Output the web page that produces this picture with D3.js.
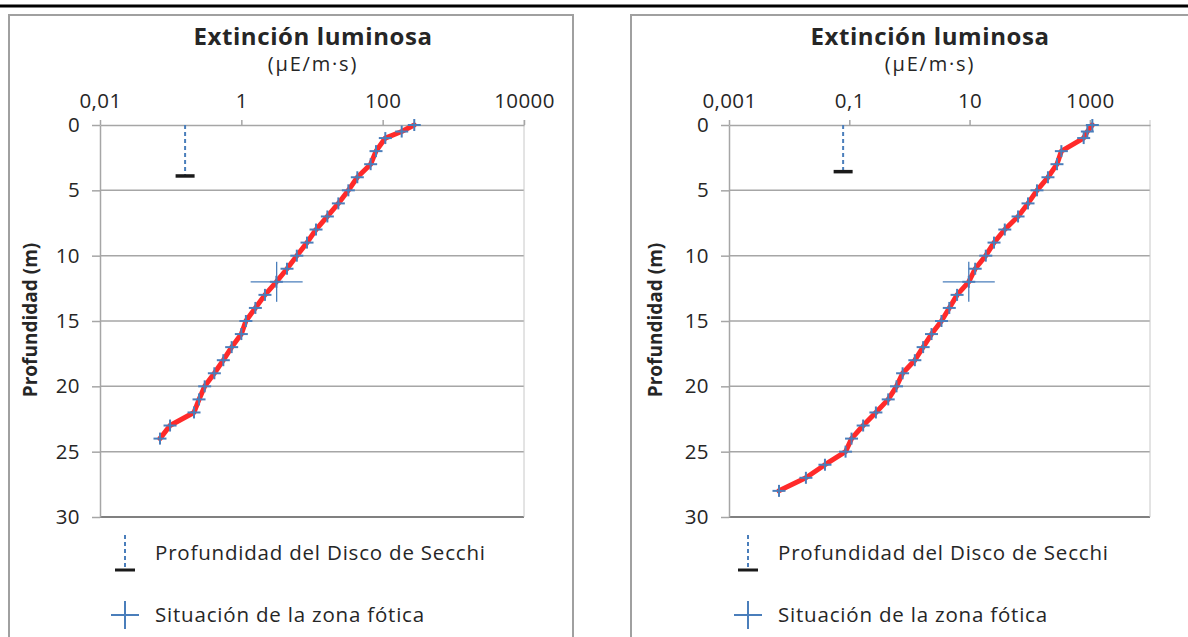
<!DOCTYPE html>
<html>
<head>
<meta charset="utf-8">
<script src="https://cdn.jsdelivr.net/npm/d3@7"></script>
<style>
  html, body { margin: 0; padding: 0; background: #fff; }
  svg { display: block; }
  text { font-family: "Open Sans", "DejaVu Sans", sans-serif; fill: #262626; }
</style>
</head>
<body>
<svg id="chart" width="1188" height="637"></svg>
<script>
// Light profile, first station: depth (m) and irradiance (µE/m·s)
const depthA = [0, 0.5, 1, 2, 3, 4, 5, 6, 7, 8, 9, 10, 11, 12, 13, 14, 15, 16, 17, 18, 19, 20, 21, 22, 23, 24];
const lightA = [280, 186, 109, 80.5, 67.6, 43.8, 32.7, 23.6, 16.5, 11.4, 8.5, 6.1, 4.43, 3.13, 2.16, 1.58,
                1.16, 1.0, 0.73, 0.556, 0.415, 0.303, 0.252, 0.214, 0.098, 0.0706];

// Light profile, second station
const depthB = [0, 0.5, 1, 2, 3, 4, 5, 6, 7, 8, 9, 10, 11, 12, 13, 14, 15, 16, 17, 18, 19, 20,
                21, 22, 23, 24, 25, 26, 27, 28];
const lightB = [1100, 908, 789, 336, 284, 201, 132, 93.7, 64, 38.5, 25.5, 18.6, 12.4, 9.7, 6.2, 4.6,
                3.41, 2.33, 1.69, 1.23, 0.77, 0.61, 0.444, 0.277, 0.170, 0.109, 0.0867, 0.0394, 0.019, 0.00678];

// Secchi disc depth [light, depth] and photic zone point [light, depth]
const secchiA = [0.16, 3.9];
const secchiB = [0.079, 3.57];
const photicA = [3.16, 12];
const photicB = [9.7, 12];

// Axis ticks
const xTicksA = [0.01, 1, 100, 10000];
const xLabelsA = ["0,01", "1", "100", "10000"];
const xDomainA = [0.01, 10000];
const xTicksB = [0.001, 0.1, 10, 1000];
const xLabelsB = ["0,001", "0,1", "10", "1000"];
const xDomainB = [0.001, 10000];
const depthTicks = [0, 5, 10, 15, 20, 25, 30];

const titleText = "Extinción luminosa";
const unitText = "(µE/m·s)";
const yTitleText = "Profundidad (m)";
const legendSecchi = "Profundidad del Disco de Secchi";
const legendPhotic = "Situación de la zona fótica";

const svg = d3.select("#chart");

// Rule across the top of the page
svg.append("line").attr("x1", 0).attr("x2", 1188).attr("y1", 6).attr("y2", 6)
  .attr("stroke", "#000").attr("stroke-width", 3);

const GRID = "#a6a6a6";
const BLUE = "#4a7ebb";
const RED = "#ff2a2a";
const TICK_FONT = 20.5;

function drawPanel(o) {
  const g = svg.append("g");

  // panel frame
  g.append("rect").attr("x", o.frame[0]).attr("y", o.frame[1])
    .attr("width", o.frame[2]).attr("height", o.frame[3])
    .attr("fill", "none").attr("stroke", "#a0a0a0").attr("stroke-width", 2);

  const x = d3.scaleLog().domain(o.xDomain).range([o.left, o.right]);
  const y = d3.scaleLinear().domain([0, 30]).range([o.top, o.bottom]);

  // horizontal gridlines
  g.selectAll(".grid").data(depthTicks.slice(1, -1)).join("line")
    .attr("x1", o.left).attr("x2", o.right)
    .attr("y1", d => y(d)).attr("y2", d => y(d))
    .attr("stroke", GRID).attr("stroke-width", 1.5);

  // bottom edge and right edge of the plot
  g.append("line").attr("x1", o.left).attr("x2", o.right)
    .attr("y1", y(30)).attr("y2", y(30)).attr("stroke", "#808080").attr("stroke-width", 2);
  g.append("line").attr("x1", o.right).attr("x2", o.right)
    .attr("y1", y(0) - 5).attr("y2", y(30)).attr("stroke", "#c8c8c8").attr("stroke-width", 1);

  // top (value) axis
  const xAxis = d3.axisTop(x).tickValues(o.xTicks)
    .tickFormat((d, i) => o.xLabels[i]).tickSize(5).tickSizeOuter(0).tickPadding(12);
  const xa = g.append("g").attr("transform", `translate(0,${o.top})`).call(xAxis);
  xa.select(".domain").attr("stroke", GRID).attr("stroke-width", 1.5);
  xa.selectAll(".tick line").attr("stroke", GRID).attr("stroke-width", 1.5);
  xa.selectAll(".tick text").attr("font-size", TICK_FONT).attr("fill", "#262626")
    .attr("letter-spacing", 0.4).attr("font-family", "Open Sans, sans-serif");

  // depth axis
  const yAxis = d3.axisLeft(y).tickValues(depthTicks).tickSize(8).tickSizeOuter(0).tickPadding(12);
  const ya = g.append("g").attr("transform", `translate(${o.left},0)`).call(yAxis);
  ya.select(".domain").attr("stroke", GRID).attr("stroke-width", 1.5);
  ya.selectAll(".tick line").attr("stroke", GRID).attr("stroke-width", 1.5);
  ya.selectAll(".tick text").attr("font-size", TICK_FONT).attr("fill", "#262626")
    .attr("letter-spacing", 0.4).attr("font-family", "Open Sans, sans-serif");

  // titles
  g.append("text").attr("x", o.titleX).attr("y", 45).attr("text-anchor", "middle")
    .attr("font-size", 24).attr("font-weight", "bold").attr("letter-spacing", 0.6).text(titleText);
  g.append("text").attr("x", o.titleX).attr("y", 71).attr("text-anchor", "middle")
    .attr("font-size", 20).attr("letter-spacing", 1.8).text(unitText);
  g.append("text").attr("transform", `translate(${o.yTitleX},${(o.top + o.bottom) / 2 - 1}) rotate(-90)`)
    .attr("text-anchor", "middle").attr("font-size", 19).attr("font-weight", "bold").text(yTitleText);

  // Secchi disc marker: dashed drop line with a bar at the measured depth
  g.append("line").attr("x1", x(o.secchi[0])).attr("x2", x(o.secchi[0]))
    .attr("y1", y(0)).attr("y2", y(o.secchi[1]))
    .attr("stroke", BLUE).attr("stroke-width", 2).attr("stroke-dasharray", "4,3");
  g.append("line").attr("x1", x(o.secchi[0]) - 9.5).attr("x2", x(o.secchi[0]) + 9.5)
    .attr("y1", y(o.secchi[1])).attr("y2", y(o.secchi[1]))
    .attr("stroke", "#1a1a1a").attr("stroke-width", 3.5);

  // irradiance profile
  const pts = o.depth.map((d, i) => [o.light[i], d]);
  g.append("path").datum(pts)
    .attr("d", d3.line().x(p => x(p[0])).y(p => y(p[1])))
    .attr("fill", "none").attr("stroke", RED).attr("stroke-width", 5)
    .attr("stroke-linejoin", "round").attr("stroke-linecap", "round");

  // point markers
  const mk = g.selectAll(".mk").data(pts).join("g")
    .attr("transform", p => `translate(${x(p[0])},${y(p[1])})`);
  mk.append("line").attr("x1", -6.5).attr("x2", 6.5).attr("y1", 0).attr("y2", 0)
    .attr("stroke", BLUE).attr("stroke-width", 2);
  mk.append("line").attr("x1", 0).attr("x2", 0).attr("y1", -6).attr("y2", 6)
    .attr("stroke", BLUE).attr("stroke-width", 2);

  // photic zone cross
  const px = x(o.photic[0]), py = y(o.photic[1]);
  g.append("line").attr("x1", px - 26).attr("x2", px + 26).attr("y1", py).attr("y2", py)
    .attr("stroke", BLUE).attr("stroke-width", 1.3);
  g.append("line").attr("x1", px).attr("x2", px).attr("y1", py - 20).attr("y2", py + 20)
    .attr("stroke", BLUE).attr("stroke-width", 1.3);

  // legend
  const lx = o.legendX;
  g.append("line").attr("x1", lx).attr("x2", lx).attr("y1", 535).attr("y2", 568)
    .attr("stroke", BLUE).attr("stroke-width", 2).attr("stroke-dasharray", "4,3");
  g.append("line").attr("x1", lx - 10).attr("x2", lx + 10).attr("y1", 570).attr("y2", 570)
    .attr("stroke", "#1a1a1a").attr("stroke-width", 3);
  g.append("text").attr("x", lx + 30).attr("y", 560).attr("font-size", 20.5)
    .attr("letter-spacing", 0.8).text(legendSecchi);
  g.append("line").attr("x1", lx - 14).attr("x2", lx + 14).attr("y1", 615).attr("y2", 615)
    .attr("stroke", BLUE).attr("stroke-width", 2);
  g.append("line").attr("x1", lx).attr("x2", lx).attr("y1", 601).attr("y2", 629)
    .attr("stroke", BLUE).attr("stroke-width", 2);
  g.append("text").attr("x", lx + 30).attr("y", 622).attr("font-size", 20.5)
    .attr("letter-spacing", 0.8).text(legendPhotic);
}

drawPanel({
  frame: [9, 15, 564, 640], left: 100, right: 524, top: 125, bottom: 517,
  xDomain: xDomainA, xTicks: xTicksA, xLabels: xLabelsA,
  depth: depthA, light: lightA, secchi: secchiA, photic: photicA,
  titleX: 313, yTitleX: 37, legendX: 125
});
drawPanel({
  frame: [631, 15, 620, 640], left: 729, right: 1150, top: 125, bottom: 517,
  xDomain: xDomainB, xTicks: xTicksB, xLabels: xLabelsB,
  depth: depthB, light: lightB, secchi: secchiB, photic: photicB,
  titleX: 930, yTitleX: 662, legendX: 748
});
</script>
</body>
</html>
